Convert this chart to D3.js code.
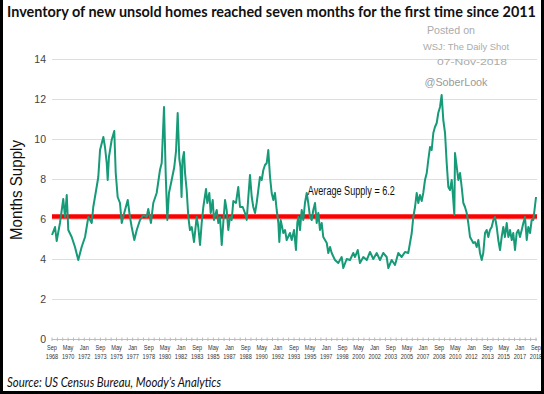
<!DOCTYPE html>
<html>
<head>
<meta charset="utf-8">
<script src="https://cdn.jsdelivr.net/npm/d3@7"></script>
<style>
  html, body { margin: 0; padding: 0; background: #fff; }
  svg { display: block; }
</style>
</head>
<body>
<svg id="chart" width="544" height="394"></svg>
<script>
// ---- Data ----
const title = "Inventory of new unsold homes reached seven months for the first time since 2011";
const sourceText = "Source: US Census Bureau, Moody\u2019s Analytics";
const yAxisTitle = "Months Supply";
const averageValue = 6.2;
const averageLabel = "Average Supply = 6.2";
const watermark = ["Posted on", "WSJ: The Daily Shot", "07-Nov-2018", "@SoberLook"];
const yTicks = [0, 2, 4, 6, 8, 10, 12, 14];
const xTickLabels = ["Sep 1968","May 1970","Jan 1972","Sep 1973","May 1975","Jan 1977","Sep 1978",
  "May 1980","Jan 1982","Sep 1983","May 1985","Jan 1987","Sep 1988","May 1990","Jan 1992",
  "Sep 1993","May 1995","Jan 1997","Sep 1998","May 2000","Jan 2002","Sep 2003","May 2005",
  "Jan 2007","Sep 2008","May 2010","Jan 2012","Sep 2013","May 2015","Jan 2017","Sep 2018"];

// decimal years
const years = [
1968.67,1968.98,1969.15,1969.49,1969.83,1970.01,1970.19,1970.35,1970.70,1971.04,
1971.38,1971.73,1972.08,1972.42,1972.77,1972.93,1973.28,1973.45,1973.63,1973.97,
1974.14,1974.32,1974.42,1974.55,1974.83,1975.10,1975.25,1975.45,1975.69,1975.87,
1976.21,1976.49,1976.72,1976.90,1977.17,1977.42,1977.76,1978.10,1978.45,1978.61,
1978.89,1979.13,1979.48,1979.82,1980.00,1980.24,1980.41,1980.58,1980.75,1981.03,
1981.30,1981.48,1981.65,1981.82,1981.94,1982.05,1982.15,1982.30,1982.41,1982.58,
1982.75,1982.92,1983.10,1983.34,1983.61,1983.78,1983.96,1984.13,1984.30,1984.58,
1984.71,1984.92,1985.06,1985.27,1985.40,1985.68,1985.85,1986.02,1986.20,1986.36,
1986.54,1986.71,1986.88,1987.05,1987.23,1987.40,1987.67,1987.91,1988.09,1988.37,
1988.60,1988.78,1988.95,1989.12,1989.30,1989.46,1989.64,1989.81,1989.98,1990.15,
1990.33,1990.50,1990.67,1990.85,1991.01,1991.19,1991.36,1991.53,1991.70,1991.88,
1992.05,1992.15,1992.29,1992.56,1992.74,1992.91,1993.25,1993.43,1993.67,1993.87,
1994.01,1994.11,1994.29,1994.46,1994.63,1994.80,1994.98,1995.14,1995.32,1995.50,
1995.66,1995.84,1996.01,1996.18,1996.35,1996.53,1996.69,1997.05,1997.21,1997.39,
1997.56,1997.90,1998.24,1998.59,1998.76,1999.11,1999.45,1999.79,1999.97,2000.25,
2000.48,2000.83,2001.18,2001.52,2001.86,2002.21,2002.55,2002.89,2003.24,2003.41,
2003.76,2004.10,2004.44,2004.79,2005.13,2005.47,2005.65,2005.83,2005.99,2006.17,
2006.34,2006.51,2006.68,2006.86,2007.02,2007.20,2007.38,2007.54,2007.72,2007.89,
2008.06,2008.23,2008.41,2008.57,2008.75,2008.92,2009.09,2009.27,2009.44,2009.61,
2009.78,2009.96,2010.12,2010.23,2010.30,2010.48,2010.64,2010.82,2010.99,2011.16,
2011.33,2011.51,2011.67,2011.85,2012.02,2012.19,2012.36,2012.54,2012.71,2012.88,
2013.06,2013.22,2013.40,2013.57,2013.74,2013.91,2014.09,2014.26,2014.43,2014.61,
2014.77,2014.95,2015.12,2015.29,2015.46,2015.64,2015.81,2015.98,2016.16,2016.32,
2016.50,2016.67,2016.84,2017.01,2017.19,2017.36,2017.53,2017.71,2017.87,2018.05,
2018.22,2018.39,2018.67];

// months' supply
const supply = [
5.2,5.6,4.9,5.8,7.0,6.1,7.2,5.45,5.1,4.6,
3.95,4.6,5.1,6.1,5.8,6.6,7.6,8.1,9.45,10.1,
9.6,8.8,7.95,9.1,9.95,10.4,8.3,7.1,6.8,5.8,
6.45,6.95,6.1,5.6,4.95,5.45,5.95,6.2,6.1,6.5,
5.8,6.8,7.3,8.45,8.8,11.6,8.3,5.95,7.3,7.95,
8.6,9.4,11.3,9.0,8.6,7.1,8.95,9.35,8.3,7.45,
6.1,5.45,5.6,4.85,6.1,5.6,4.7,5.8,6.6,7.5,
6.8,7.3,6.3,6.95,5.95,6.45,5.8,6.1,4.7,5.8,
6.95,6.45,5.45,6.1,5.95,6.9,6.8,7.6,6.6,6.6,
6.3,5.95,7.1,8.2,7.1,6.6,6.3,6.8,7.45,8.1,
7.95,8.45,8.7,8.8,9.45,8.1,7.3,6.95,7.3,6.45,
5.8,4.85,5.95,5.3,5.45,4.95,5.3,4.95,5.45,4.45,
5.8,6.1,5.45,6.45,5.95,6.8,7.3,6.8,6.1,5.95,
6.45,6.8,5.8,6.3,5.45,5.8,5.1,4.8,4.3,4.6,
4.3,3.95,3.8,4.1,3.55,4.0,3.95,4.3,4.1,4.45,
3.8,4.1,3.95,4.35,4.0,4.3,3.95,4.3,4.1,3.55,
3.95,3.7,4.3,4.1,4.35,4.3,4.8,5.3,6.1,6.6,
7.3,6.8,7.2,6.9,7.3,7.95,8.3,8.95,9.6,9.45,
10.3,10.6,10.8,11.3,11.6,12.2,10.95,10.3,8.8,7.6,
7.45,7.95,6.95,6.2,9.3,8.6,7.95,8.3,7.6,6.8,
6.6,6.3,5.8,5.1,4.95,4.8,4.85,4.6,4.95,4.3,
3.95,4.3,5.3,5.45,5.1,5.45,5.6,5.95,6.1,5.6,
4.95,4.45,5.1,5.6,5.1,5.8,5.1,5.45,4.95,5.3,
4.45,5.3,5.45,5.1,5.45,5.8,6.1,4.95,5.6,5.3,
5.95,5.95,7.1];

// ---- Drawing ----
const svg = d3.select("#chart");
const W = 544, H = 394;
const plot = { left: 52, right: 536, top: 59, bottom: 339 };

const monthNames = {Jan:0, Feb:1, Mar:2, Apr:3, May:4, Jun:5, Jul:6, Aug:7, Sep:8, Oct:9, Nov:10, Dec:11};
const parseLabel = s => { const [m, y] = s.split(" "); return +y + monthNames[m] / 12; };

const x = d3.scaleLinear()
  .domain([parseLabel(xTickLabels[0]), parseLabel(xTickLabels[xTickLabels.length - 1])])
  .range([plot.left, plot.right]);
const y = d3.scaleLinear().domain([0, 14]).range([plot.bottom, plot.top]);

svg.append("rect").attr("width", W).attr("height", H).attr("fill", "#fff");

// gridlines + y labels
const yAxis = d3.axisLeft(y).tickValues(yTicks).tickSize(-(plot.right - plot.left + 1)).tickPadding(6);
const gy = svg.append("g").attr("transform", `translate(${plot.left},0)`).call(yAxis);
gy.select(".domain").remove();
gy.selectAll(".tick line").attr("stroke", "#dedede").attr("stroke-width", 1)
  .filter(d => d === 0).attr("stroke", "#bdbdbd");
gy.selectAll(".tick text").attr("fill", "#444").attr("font-size", 10.5)
  .attr("font-family", "Liberation Sans, Arial, sans-serif");

// x axis: minor ticks + two-line labels
const x0 = x.domain()[0], x1 = x.domain()[1];
const minorTicks = d3.range(0, 151).map(i => x0 + i * (20 / 3) / 12).filter(v => v <= x1 + 1e-6);
const gx = svg.append("g");
gx.selectAll("line.minor").data(minorTicks).join("line")
  .attr("x1", d => x(d)).attr("x2", d => x(d))
  .attr("y1", plot.bottom - 1.5).attr("y2", plot.bottom + 2)
  .attr("stroke", "#bbb").attr("stroke-width", 1);
const xl = gx.selectAll("g.lab").data(xTickLabels).join("g")
  .attr("transform", d => `translate(${x(parseLabel(d))},0) scale(0.7,1)`);
xl.append("text").attr("y", plot.bottom + 11).text(d => d.split(" ")[0]);
xl.append("text").attr("y", plot.bottom + 20.5).text(d => d.split(" ")[1]);
xl.selectAll("text").attr("text-anchor", "middle").attr("font-size", 8)
  .attr("font-family", "Liberation Sans, Arial, sans-serif").attr("fill", "#333");

// average line
svg.append("line")
  .attr("x1", plot.left).attr("x2", plot.right + 1)
  .attr("y1", y(averageValue) + 1.5).attr("y2", y(averageValue) + 1.5)
  .attr("stroke", "#ff0000").attr("stroke-width", 4.5);

// series line
const line = d3.line().x((d, i) => x(years[i])).y(d => y(d));
svg.append("path").datum(supply)
  .attr("d", line).attr("fill", "none")
  .attr("stroke", "#169a78").attr("stroke-width", 2).attr("stroke-linejoin", "round");

// average label
svg.append("text").attr("x", x(1995.1)).attr("y", y(7.2))
  .attr("font-family", "Liberation Sans, Arial, sans-serif")
  .attr("font-size", 12.5).attr("fill", "#111").text(averageLabel)
  .attr("textLength", 87).attr("lengthAdjust", "spacingAndGlyphs");

// watermark
const wm = [
  { t: watermark[0], x: 451, y: 34, s: 10.5, len: 48 },
  { t: watermark[1], x: 466, y: 50, s: 9.5, len: 86 },
  { t: watermark[2], x: 472, y: 65, s: 9.5, len: 70 },
  { t: watermark[3], x: 456, y: 86, s: 11.5, len: 63 }
];
svg.selectAll("text.wm").data(wm).join("text")
  .attr("x", d => d.x).attr("y", d => d.y).attr("text-anchor", "middle")
  .attr("font-family", "Liberation Sans, Arial, sans-serif")
  .attr("font-size", d => d.s).attr("fill", (d, i) => i === 3 ? "#9a9a9a" : "#ababab")
  .attr("textLength", d => d.len).attr("lengthAdjust", "spacingAndGlyphs")
  .text(d => d.t);

// y-axis title
svg.append("text").attr("transform", "translate(22,190) rotate(-90)")
  .attr("text-anchor", "middle").attr("font-family", "Liberation Sans, Arial, sans-serif")
  .attr("font-size", 16).attr("fill", "#111").text(yAxisTitle)
  .attr("textLength", 100).attr("lengthAdjust", "spacingAndGlyphs");

// title
svg.append("text").attr("x", 7).attr("y", 17)
  .attr("font-family", "Lato, Open Sans, sans-serif").attr("font-weight", "bold")
  .attr("font-size", 14.5).attr("fill", "#111").text(title)
  .attr("textLength", 529).attr("lengthAdjust", "spacingAndGlyphs");

// source
svg.append("text").attr("x", 7).attr("y", 387)
  .attr("font-family", "Lato, Open Sans, sans-serif").attr("font-style", "italic")
  .attr("font-size", 12.5).attr("fill", "#111").text(sourceText)
  .attr("textLength", 214).attr("lengthAdjust", "spacingAndGlyphs");

// black frame edges
svg.append("rect").attr("x", 0).attr("y", 0).attr("width", 3).attr("height", H).attr("fill", "#000");
svg.append("rect").attr("x", W - 3).attr("y", 0).attr("width", 3).attr("height", H).attr("fill", "#000");
svg.append("rect").attr("x", 0).attr("y", 391).attr("width", W).attr("height", 3).attr("fill", "#000");
</script>
</body>
</html>
